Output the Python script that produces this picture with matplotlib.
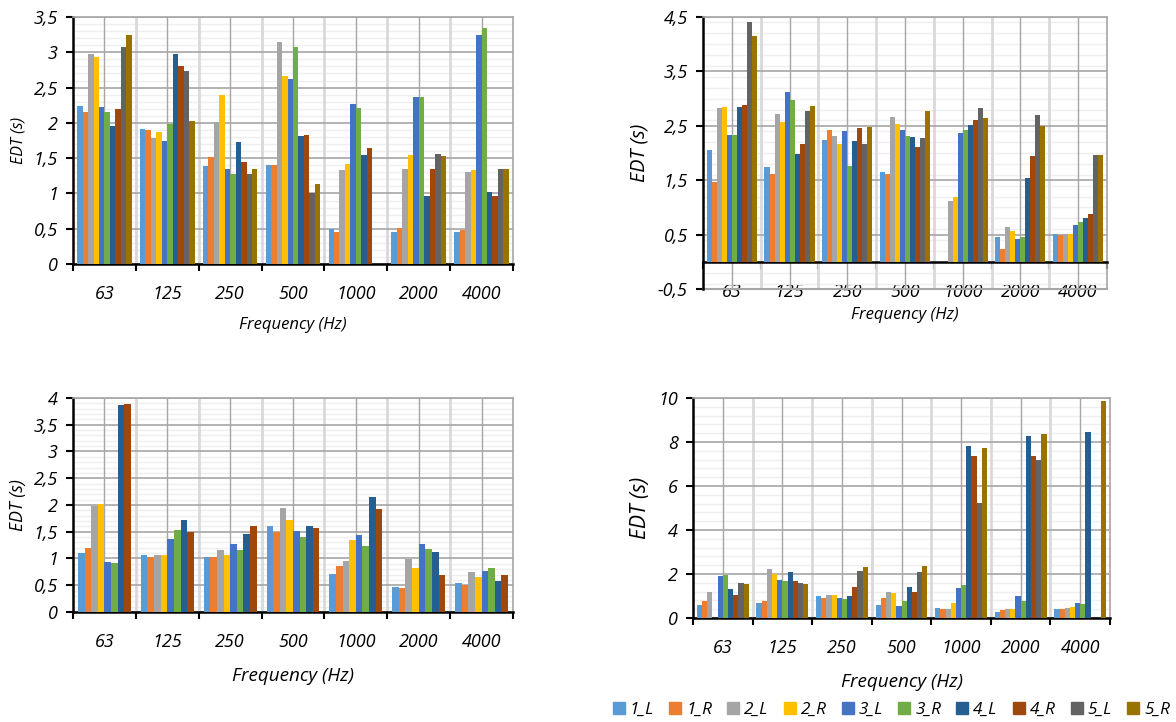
import numpy as np
import matplotlib.pyplot as plt
from matplotlib.ticker import MultipleLocator, FuncFormatter, FixedLocator
from matplotlib.patches import Patch

plt.rcParams['font.family'] = ['Open Sans', 'DejaVu Sans']
plt.rcParams['font.style'] = 'italic'

nan = np.nan

freqs = ['63', '125', '250', '500', '1000', '2000', '4000']
series = ['1_L', '1_R', '2_L', '2_R', '3_L', '3_R', '4_L', '4_R', '5_L', '5_R']
colors = ['#5B9BD5', '#ED7D31', '#A5A5A5', '#FFC000', '#4472C4',
          '#70AD47', '#255E91', '#9E480E', '#636363', '#997300']

# one row per series, one value per frequency
top_left = [
    [2.24, 1.92, 1.39, 1.41, 0.50, 0.46, 0.46],
    [2.16, 1.90, 1.52, 1.40, 0.45, 0.51, 0.48],
    [2.97, 1.79, 2.01, 3.14, 1.33, 1.35, 1.31],
    [2.93, 1.87, 2.39, 2.66, 1.42, 1.55, 1.33],
    [2.22, 1.74, 1.35, 2.62, 2.27, 2.37, 3.25],
    [2.15, 1.98, 1.28, 3.08, 2.21, 2.37, 3.34],
    [1.95, 2.98, 1.73, 1.81, 1.55, 0.96, 1.02],
    [2.20, 2.81, 1.45, 1.83, 1.64, 1.34, 0.97],
    [3.08, 2.74, 1.28, 1.00, nan, 1.56, 1.35],
    [3.25, 2.02, 1.35, 1.14, nan, 1.53, 1.34],
]

top_right = [
    [2.05, 1.74, 2.24, 1.65, nan, 0.45, 0.51],
    [1.46, 1.61, 2.43, 1.61, nan, 0.24, 0.49],
    [2.82, 2.72, 2.31, 2.67, 1.12, 0.64, 0.51],
    [2.84, 2.57, 2.17, 2.53, 1.20, 0.57, 0.51],
    [2.34, 3.13, 2.40, 2.43, 2.36, 0.42, 0.68],
    [2.34, 2.97, 1.76, 2.31, 2.43, 0.46, 0.73],
    [2.84, 1.99, 2.23, 2.30, 2.51, 1.54, 0.80],
    [2.89, 2.17, 2.46, 2.11, 2.61, 1.94, 0.87],
    [4.40, 2.77, 2.17, 2.28, 2.83, 2.70, 1.96],
    [4.16, 2.87, 2.48, 2.78, 2.64, 2.49, 1.96],
]

bottom_left = [
    [1.10, 1.07, 1.03, 1.61, 0.71, 0.47, 0.54],
    [1.20, 1.02, 1.03, 1.50, 0.85, 0.44, 0.50],
    [1.99, 1.07, 1.15, 1.94, 0.95, 0.99, 0.75],
    [2.02, 1.06, 1.06, 1.71, 1.35, 0.82, 0.66],
    [0.93, 1.37, 1.27, 1.51, 1.43, 1.27, 0.77],
    [0.91, 1.54, 1.15, 1.40, 1.23, 1.18, 0.83],
    [3.87, 1.71, 1.45, 1.61, 2.15, 1.13, 0.57],
    [3.88, 1.50, 1.61, 1.57, 1.93, 0.69, 0.69],
]

bottom_right = [
    [0.59, 0.68, 1.00, 0.61, 0.44, 0.29, 0.39],
    [0.77, 0.76, 0.90, 0.90, 0.41, 0.36, 0.39],
    [1.18, 2.23, 1.03, 1.17, 0.42, 0.42, 0.44],
    [nan, 2.00, 1.03, 1.14, 0.70, 0.42, 0.50],
    [1.90, 1.71, 0.90, 0.56, 1.38, 1.00, 0.68],
    [1.94, 1.68, 0.86, 0.77, 1.52, 0.77, 0.65],
    [1.34, 2.08, 0.99, 1.43, 7.83, 8.29, 8.45],
    [1.06, 1.70, 1.41, 1.20, 7.36, 7.36, nan],
    [1.59, 1.59, 2.15, 2.09, 5.25, 7.18, nan],
    [1.55, 1.56, 2.34, 2.35, 7.71, 8.35, 9.88],
]


def comma(v, pos):
    s = ('%g' % round(v, 2))
    return s.replace('.', ',')


def panel(fig, rect, data, ylo, yhi, major, minor, ytick_start,
          ylab_x, ylab_size, xlab_y, xlab_size):
    ax = fig.add_axes(rect)
    n = len(data)
    x = np.arange(len(freqs))
    w = 1.0 / (n + 1.5)
    for i, vals in enumerate(data):
        off = (i - (n - 1) / 2) * w
        ax.bar(x + off, vals, width=w, color=colors[i], zorder=3)

    ax.set_xlim(-0.5, len(freqs) - 0.5)
    ax.set_ylim(ylo, yhi)

    bounds = np.arange(-0.5, len(freqs), 1.0)
    ax.set_xticks(x)
    ax.set_xticklabels(freqs)
    ax.xaxis.set_minor_locator(FixedLocator(bounds))
    ax.tick_params(axis='x', which='major', length=0, pad=15, labelsize=13)
    ax.tick_params(axis='x', which='minor', length=5, width=1.5,
                   direction='out', color='black')

    yt = np.arange(ytick_start, yhi + 1e-6, major)
    ax.yaxis.set_major_locator(FixedLocator(yt))
    ax.yaxis.set_minor_locator(MultipleLocator(minor))
    ax.yaxis.set_major_formatter(FuncFormatter(comma))
    ax.tick_params(axis='y', which='major', length=5, width=1.5,
                   labelsize=13, pad=6)
    ax.tick_params(axis='y', which='minor', length=0)

    # gridlines: faint minor rows, light column borders, grey centres and rows
    ax.grid(which='minor', axis='y', color='#efefef', lw=1.0)
    for b in bounds[1:-1]:
        ax.axvline(b, color='#d9d9d9', lw=2.0, zorder=1)
    for c in x:
        ax.axvline(c, color='#a6a6a6', lw=1.0, zorder=1.2)
    for t in yt:
        ax.axhline(t, color='#a6a6a6', lw=1.2, zorder=1.4)
    ax.set_axisbelow(True)

    for s in ['top', 'right']:
        ax.spines[s].set_color('#a6a6a6')
        ax.spines[s].set_linewidth(1.2)
    ax.spines['left'].set_linewidth(1.8)
    ax.spines['bottom'].set_linewidth(1.8)
    if ylo < 0:
        ax.spines['bottom'].set_position(('data', 0))
        ax.axhline(ylo, color='#a6a6a6', lw=1.5, zorder=1.4, clip_on=False)

    ax.text(ylab_x, 0.5, 'EDT (s)', transform=ax.transAxes, rotation=90,
            ha='center', va='center', fontsize=ylab_size)
    ax.text(0.5, xlab_y, 'Frequency (Hz)', transform=ax.transAxes,
            ha='center', va='center', fontsize=xlab_size)
    return ax


fig = plt.figure(figsize=(11.76, 7.22), dpi=100)

panel(fig, [0.0621, 0.6343, 0.3741, 0.3421], top_left, 0, 3.5, 0.5, 0.1, 0,
      -0.125, 11.5, -0.247, 12)
panel(fig, [0.5978, 0.5997, 0.3435, 0.3767], top_right, -0.5, 4.5, 1.0, 0.2, -0.5,
      -0.156, 14.2, -0.096, 12)
panel(fig, [0.0621, 0.1524, 0.3741, 0.2964], bottom_left, 0, 4, 0.5, 0.1, 0,
      -0.125, 12.7, -0.299, 13.6)
panel(fig, [0.5893, 0.1440, 0.3546, 0.3047], bottom_right, 0, 10, 2, 0.4, 0,
      -0.127, 15.2, -0.291, 13.6)

handles = [Patch(color=c) for c in colors]
fig.legend(handles, series, loc='center', bbox_to_anchor=(0.758, 0.0166),
           ncol=10, frameon=False, fontsize=12.3, handlelength=0.7,
           handleheight=0.7, columnspacing=0.88, handletextpad=0.3,
           borderaxespad=0, borderpad=0)

fig.savefig('out.png', dpi=100)
